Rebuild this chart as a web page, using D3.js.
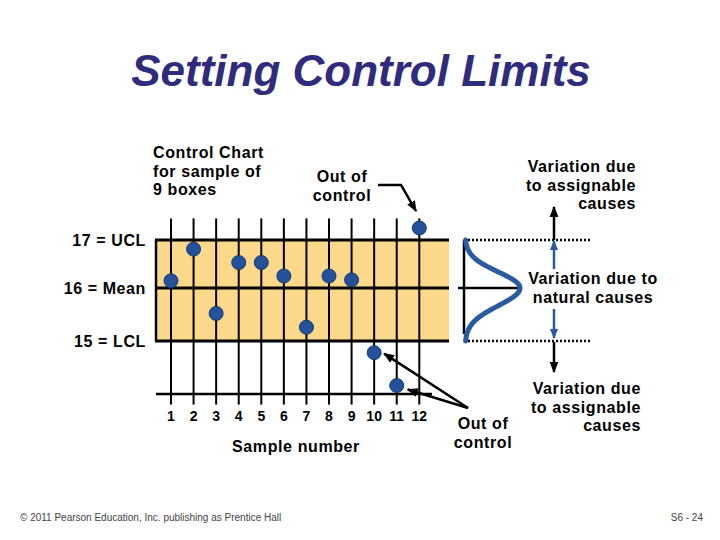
<!DOCTYPE html>
<html>
<head>
<meta charset="utf-8">
<script src="https://cdn.jsdelivr.net/npm/d3@7"></script>
<style>
  body { margin: 0; background: #fff; }
  svg text { font-family: "Liberation Sans", Arial, sans-serif; fill: #000; }
</style>
</head>
<body>
<script>
// chart data
var samples = [1, 2, 3, 4, 5, 6, 7, 8, 9, 10, 11, 12];
var sampleValues = [16.15, 16.81, 15.52, 16.53, 16.53, 16.25, 15.26, 16.25, 16.17, 14.78, 14.16, 17.25];
var limitValues = [17, 16, 15];
var limitLabels = ["17 = UCL", "16 = Mean", "15 = LCL"];
var baseValue = 14;

var width = 720, height = 540;
var svg = d3.select("body").append("svg")
    .attr("width", width)
    .attr("height", height);

// scales (the slide spaces mean->UCL a bit tighter than mean->LCL)
var x = d3.scaleLinear().domain([1, 12]).range([171, 419.3]);
var y = d3.scaleLinear().domain([14, 15, 16, 17]).range([394, 341, 288, 240]);

var bandLeft = 156, bandRight = 449;
var blue = "#2a5aa0";

// arrow markers
var defs = svg.append("defs");
function addMarker(id, color, size){
    defs.append("marker")
        .attr("id", id)
        .attr("viewBox", "0 0 10 10")
        .attr("refX", 9).attr("refY", 5)
        .attr("markerUnits", "userSpaceOnUse")
        .attr("markerWidth", size).attr("markerHeight", size)
        .attr("orient", "auto")
        .append("path")
        .attr("d", "M0,1 L10,5 L0,9 Z")
        .attr("fill", color);
}
addMarker("headBlack", "#000", 11);
addMarker("headBlue", blue, 10);

// title
svg.append("text")
    .attr("x", 361).attr("y", 86)
    .attr("text-anchor", "middle")
    .style("font-size", "44px")
    .style("font-weight", "bold")
    .style("font-style", "italic")
    .style("fill", "#2f2c7e")
    .text("Setting Control Limits");

// control band
svg.append("rect")
    .attr("x", bandLeft).attr("y", y(17))
    .attr("width", bandRight - bandLeft).attr("height", y(15) - y(17))
    .attr("fill", "#fcd88b");

// vertical sample lines
svg.selectAll(".vline")
    .data(samples)
    .enter()
    .append("line")
    .attr("class", "vline")
    .attr("x1", function(d){ return x(d); })
    .attr("x2", function(d){ return x(d); })
    .attr("y1", y(17.45))
    .attr("y2", y(13.8))
    .attr("stroke", "#000")
    .attr("stroke-width", 2);

// limit lines
svg.selectAll(".limit")
    .data(limitValues)
    .enter()
    .append("line")
    .attr("class", "limit")
    .attr("x1", bandLeft - 1).attr("x2", bandRight)
    .attr("y1", function(d){ return y(d); })
    .attr("y2", function(d){ return y(d); })
    .attr("stroke", "#000")
    .attr("stroke-width", 3);

svg.append("line")
    .attr("x1", bandLeft).attr("x2", bandLeft)
    .attr("y1", y(17)).attr("y2", y(15))
    .attr("stroke", "#000").attr("stroke-width", 2.5);

// base line
svg.append("line")
    .attr("x1", bandLeft).attr("x2", 432)
    .attr("y1", y(baseValue)).attr("y2", y(baseValue))
    .attr("stroke", "#000").attr("stroke-width", 2.5);

// limit labels
svg.selectAll(".limitLabel")
    .data(limitValues)
    .enter()
    .append("text")
    .attr("class", "limitLabel")
    .attr("x", 146)
    .attr("y", function(d){ return y(d) + 6; })
    .attr("text-anchor", "end")
    .style("font-size", "16px")
    .style("font-weight", "bold")
    .style("letter-spacing", "0.6px")
    .text(function(d, i){ return limitLabels[i]; });

// sample number labels
svg.selectAll(".num")
    .data(samples)
    .enter()
    .append("text")
    .attr("class", "num")
    .attr("x", function(d){ return x(d); })
    .attr("y", 421)
    .attr("text-anchor", "middle")
    .style("font-size", "14px")
    .style("font-weight", "bold")
    .text(function(d){ return d; });

// sample points
svg.selectAll(".dot")
    .data(samples)
    .enter()
    .append("circle")
    .attr("class", "dot")
    .attr("cx", function(d){ return x(d); })
    .attr("cy", function(d, i){ return y(sampleValues[i]); })
    .attr("r", 7)
    .attr("fill", "#24519a")
    .attr("stroke", "#163a72")
    .attr("stroke-width", 1);

// normal curve, limits at +-3 sigma
var curveX = 464, curveAmp = 55;
var sigma = (17 - 16) / 3;
var curvePts = d3.range(15, 17.001, 0.02);
svg.append("line")
    .attr("x1", curveX).attr("x2", curveX)
    .attr("y1", y(17)).attr("y2", y(15.13))
    .attr("stroke", "#000").attr("stroke-width", 2.5);
svg.append("line")
    .attr("x1", 458).attr("x2", 518)
    .attr("y1", y(16)).attr("y2", y(16))
    .attr("stroke", "#000").attr("stroke-width", 2.5);
svg.append("path")
    .datum(curvePts)
    .attr("d", d3.line()
        .x(function(v){ return curveX + 1 + curveAmp * Math.exp(-Math.pow((v - 16) / sigma, 2) / 2); })
        .y(function(v){ return y(v); }))
    .attr("fill", "none")
    .attr("stroke", blue)
    .attr("stroke-width", 5)
    .attr("stroke-linecap", "round");

// dotted limit extensions
svg.selectAll(".dotted")
    .data([17, 15])
    .enter()
    .append("line")
    .attr("x1", 468).attr("x2", 592)
    .attr("y1", function(d){ return y(d); })
    .attr("y2", function(d){ return y(d); })
    .attr("stroke", "#000")
    .attr("stroke-width", 2.5)
    .attr("stroke-dasharray", "2,2");

// variation arrows
var ax = 554;
function arrow(y1, y2, color, marker){
    svg.append("line")
        .attr("x1", ax).attr("x2", ax)
        .attr("y1", y1).attr("y2", y2)
        .attr("stroke", color).attr("stroke-width", 2.5)
        .attr("marker-end", "url(#" + marker + ")");
}
arrow(y(17), 207, "#000", "headBlack");
arrow(269, y(17) + 1, blue, "headBlue");
arrow(309, y(15) - 3, blue, "headBlue");
arrow(y(15) + 1, 372, "#000", "headBlack");

// multi-line text helper
function block(lines, xPos, yPos, anchor, size, lh){
    var t = svg.append("text")
        .attr("x", xPos).attr("y", yPos)
        .attr("text-anchor", anchor)
        .style("font-size", size + "px")
        .style("font-weight", "bold")
        .style("letter-spacing", "0.6px");
    lines.forEach(function(s, i){
        t.append("tspan").attr("x", xPos).attr("dy", i == 0 ? 0 : lh).text(s);
    });
}
block(["Control Chart", "for sample of", "9 boxes"], 153, 158, "start", 16, 18.5);
block(["Out of", "control"], 342, 182, "middle", 16, 18.5);
block(["Variation due", "to assignable", "causes"], 636, 172, "end", 16, 18.5);
block(["Variation due to", "natural causes"], 593, 284, "middle", 16, 18.5);
block(["Variation due", "to assignable", "causes"], 641, 394, "end", 16, 18.5);
block(["Out of", "control"], 483, 429, "middle", 16, 18.5);

svg.append("text")
    .attr("x", 296).attr("y", 452)
    .attr("text-anchor", "middle")
    .style("font-size", "16px")
    .style("font-weight", "bold")
    .style("letter-spacing", "0.6px")
    .text("Sample number");

// out of control pointers
svg.append("polyline")
    .attr("points", "378,185 401,185 416,211")
    .attr("fill", "none")
    .attr("stroke", "#000").attr("stroke-width", 2.5)
    .attr("marker-end", "url(#headBlack)");
svg.append("line")
    .attr("x1", 468).attr("y1", 408)
    .attr("x2", x(10) + 10).attr("y2", y(sampleValues[9]) + 1)
    .attr("stroke", "#000").attr("stroke-width", 2.5)
    .attr("marker-end", "url(#headBlack)");
svg.append("line")
    .attr("x1", 468).attr("y1", 408)
    .attr("x2", x(11) + 11).attr("y2", y(sampleValues[10]) + 4)
    .attr("stroke", "#000").attr("stroke-width", 2.5)
    .attr("marker-end", "url(#headBlack)");

// footer
svg.append("text")
    .attr("x", 20).attr("y", 521)
    .style("font-size", "10px")
    .style("fill", "#444")
    .text("\u00a9 2011 Pearson Education, Inc. publishing as Prentice Hall");
svg.append("text")
    .attr("x", 703).attr("y", 521)
    .attr("text-anchor", "end")
    .style("font-size", "10px")
    .style("fill", "#444")
    .text("S6 - 24");
</script>
</body>
</html>
